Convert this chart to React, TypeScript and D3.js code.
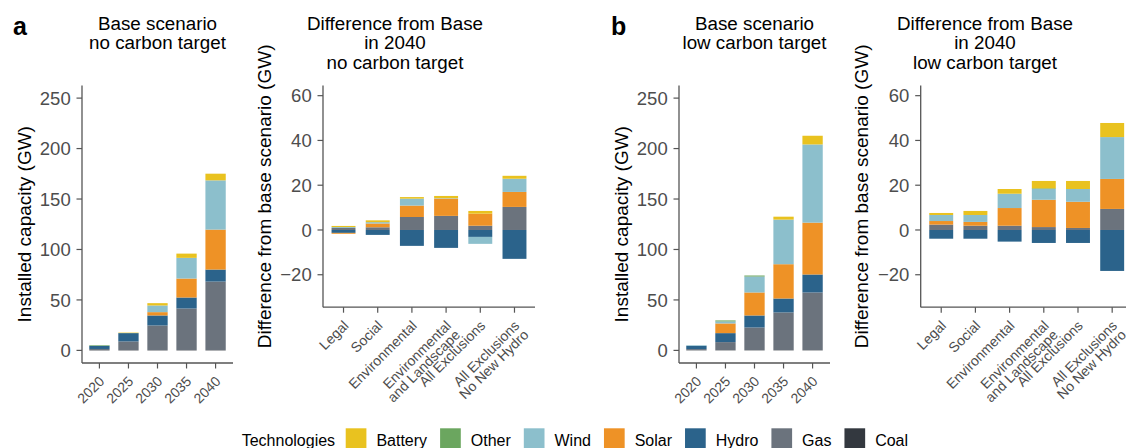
import React, { useEffect, useRef } from "react";
import * as d3 from "d3";

// ---------- data ----------
const technologies = ["Battery", "Other", "Wind", "Solar", "Hydro", "Gas", "Coal"];
const techColors = ["#E9C21F", "#6BA65F", "#8CBFCC", "#EE9226", "#2B638B", "#6B737D", "#33383F"];
const years = ["2020", "2025", "2030", "2035", "2040"];
const scenarios = [
  "Legal",
  "Social",
  "Environmental",
  "Environmental\nand Landscape",
  "All Exclusions",
  "All Exclusions\nNo New Hydro",
];
const baseTicks = [0, 50, 100, 150, 200, 250];
const diffTicks = [-20, 0, 20, 40, 60];

// a: base scenario, no carbon target (GW)
const noCarbonCoal = [0.4, 0.4, 0.4, 0.4, 0.4];
const noCarbonGas = [1.0, 8.5, 24.3, 41.1, 67.8];
const noCarbonHydro = [3.1, 8.2, 9.9, 10.9, 11.9];
const noCarbonSolar = [0, 0, 3.3, 18.8, 39.6];
const noCarbonWind = [0, 0, 6.6, 20.5, 48.8];
const noCarbonOther = [0.6, 0.1, 0, 0, 0];
const noCarbonBattery = [0, 0.4, 2.3, 4.2, 6.6];

// a: difference from base in 2040, no carbon target (GW)
const noCarbonDiffGas = [0.9, 1.2, 5.8, 6.3, 1.9, 10.3];
const noCarbonDiffHydro = [-1.3, -2.2, -7.1, -8.0, -3.1, -12.9];
const noCarbonDiffSolar = [-0.4, 1.7, 5.1, 7.7, 5.4, 6.7];
const noCarbonDiffWind = [0.4, 0.6, 3.1, 0.2, -3.1, 5.9];
const noCarbonDiffBattery = [0.5, 0.8, 0.7, 1.0, 1.2, 1.3];

// b: base scenario, low carbon target (GW)
const lowCarbonCoal = [0.3, 0.3, 0.3, 0.3, 0.3];
const lowCarbonGas = [1.0, 7.9, 22.4, 37.3, 57.1];
const lowCarbonHydro = [3.2, 8.9, 11.9, 13.8, 17.8];
const lowCarbonSolar = [0, 9.6, 22.8, 34.0, 51.4];
const lowCarbonWind = [0.6, 2.0, 15.8, 44.2, 77.5];
const lowCarbonOther = [0, 1.0, 1.0, 0, 0];
const lowCarbonBattery = [0, 0, 0, 2.9, 8.6];

// b: difference from base in 2040, low carbon target (GW)
const lowCarbonDiffGas = [2.4, 1.9, 1.9, 1.3, 0.9, 9.4];
const lowCarbonDiffHydro = [-3.9, -3.9, -5.2, -5.8, -5.8, -18.3];
const lowCarbonDiffSolar = [1.6, 1.7, 7.9, 12.2, 11.7, 13.4];
const lowCarbonDiffWind = [2.7, 3.1, 6.4, 4.8, 5.7, 18.7];
const lowCarbonDiffOther = [0, 0, 0, 0.3, 0, 0];
const lowCarbonDiffBattery = [0.9, 1.8, 2.1, 3.3, 3.6, 6.3];

const zeros6 = [0, 0, 0, 0, 0, 0];

type Series = Record<string, number[]>;

function buildRows(cats: string[], s: Series) {
  return cats.map((c, i) => {
    const row: any = { cat: c };
    technologies.forEach((t) => {
      row[t] = s[t] ? s[t][i] : 0;
    });
    return row;
  });
}

const FONT = "'Liberation Sans', Arial, Helvetica, sans-serif";
const AXIS_COLOR = "#555555";
const TICK_TEXT = "#4d4d4d";

export default function App() {
  const ref = useRef<SVGSVGElement>(null);

  useEffect(() => {
    const svg = d3.select(ref.current);
    svg.selectAll("*").remove();

    const colorOf = d3.scaleOrdinal<string, string>().domain(technologies).range(techColors);

    const panels = [
      {
        cats: years,
        rows: buildRows(years, {
          Coal: noCarbonCoal, Gas: noCarbonGas, Hydro: noCarbonHydro, Solar: noCarbonSolar,
          Wind: noCarbonWind, Other: noCarbonOther, Battery: noCarbonBattery,
        }),
        xr: [82, 233], yr: [363, 85.5], domain: [-12.5, 262.5], ticks: baseTicks,
        title: ["Base scenario", "no carbon target"], titleX: 157.5,
        yLabel: "Installed capacity (GW)", yLabelX: 24.5,
      },
      {
        cats: scenarios,
        rows: buildRows(scenarios, {
          Gas: noCarbonDiffGas, Hydro: noCarbonDiffHydro, Solar: noCarbonDiffSolar,
          Wind: noCarbonDiffWind, Other: zeros6, Battery: noCarbonDiffBattery, Coal: zeros6,
        }),
        xr: [323, 535], yr: [307.2, 85.6], domain: [-34.5, 64.5], ticks: diffTicks,
        title: ["Difference from Base", "in 2040", "no carbon target"], titleX: 395,
        yLabel: "Difference from base scenario (GW)", yLabelX: 264.5,
      },
      {
        cats: years,
        rows: buildRows(years, {
          Coal: lowCarbonCoal, Gas: lowCarbonGas, Hydro: lowCarbonHydro, Solar: lowCarbonSolar,
          Wind: lowCarbonWind, Other: lowCarbonOther, Battery: lowCarbonBattery,
        }),
        xr: [679, 830], yr: [363, 85.5], domain: [-12.5, 262.5], ticks: baseTicks,
        title: ["Base scenario", "low carbon target"], titleX: 754.5,
        yLabel: "Installed capacity (GW)", yLabelX: 621.5,
      },
      {
        cats: scenarios,
        rows: buildRows(scenarios, {
          Gas: lowCarbonDiffGas, Hydro: lowCarbonDiffHydro, Solar: lowCarbonDiffSolar,
          Wind: lowCarbonDiffWind, Other: lowCarbonDiffOther, Battery: lowCarbonDiffBattery, Coal: zeros6,
        }),
        xr: [920.7, 1132.7], yr: [307.2, 85.6], domain: [-34.5, 64.5], ticks: diffTicks,
        title: ["Difference from Base", "in 2040", "low carbon target"], titleX: 985,
        yLabel: "Difference from base scenario (GW)", yLabelX: 861.5,
      },
    ];

    const stackKeys = technologies.slice().reverse();

    panels.forEach((p) => {
      const g = svg.append("g");
      const x = d3.scaleBand<string>().domain(p.cats).range(p.xr as [number, number]).paddingInner(0).paddingOuter(0.1);
      const y = d3.scaleLinear().domain(p.domain).range(p.yr);
      const bw = x.bandwidth() * 0.7;

      const stacked = d3.stack<any>().keys(stackKeys).offset(d3.stackOffsetDiverging)(p.rows);
      stacked.forEach((layer) => {
        g.append("g")
          .attr("fill", colorOf(layer.key))
          .selectAll("rect")
          .data(layer.filter((d) => Math.abs(d[1] - d[0]) > 1e-9))
          .join("rect")
          .attr("x", (d) => (x(d.data.cat) as number) + x.bandwidth() / 2 - bw / 2)
          .attr("width", bw)
          .attr("y", (d) => Math.min(y(d[0]), y(d[1])))
          .attr("height", (d) => Math.abs(y(d[0]) - y(d[1])));
      });

      const axisX = p.xr[0];
      const axisY = p.yr[0];
      // axis lines
      g.append("line").attr("x1", axisX).attr("x2", axisX).attr("y1", p.yr[1]).attr("y2", axisY)
        .attr("stroke", AXIS_COLOR).attr("stroke-width", 1.3);
      g.append("line").attr("x1", axisX).attr("x2", p.xr[1]).attr("y1", axisY).attr("y2", axisY)
        .attr("stroke", AXIS_COLOR).attr("stroke-width", 1.3);

      // y ticks
      p.ticks.forEach((t) => {
        g.append("line").attr("x1", axisX - 5.5).attr("x2", axisX).attr("y1", y(t)).attr("y2", y(t))
          .attr("stroke", AXIS_COLOR).attr("stroke-width", 1.2);
        g.append("text").attr("x", axisX - 11.3).attr("y", y(t)).attr("dy", "0.36em")
          .attr("text-anchor", "end").attr("font-family", FONT).attr("font-size", 18.5)
          .attr("fill", TICK_TEXT).text(t < 0 ? "\u2212" + Math.abs(t) : String(t));
      });

      // x ticks
      p.cats.forEach((c) => {
        const cx = (x(c) as number) + x.bandwidth() / 2;
        g.append("line").attr("x1", cx).attr("x2", cx).attr("y1", axisY).attr("y2", axisY + 5.5)
          .attr("stroke", AXIS_COLOR).attr("stroke-width", 1.2);
        const lab = g.append("text")
          .attr("transform", `translate(${cx - 1.5},${axisY + 12}) rotate(-45)`)
          .attr("text-anchor", "end").attr("font-family", FONT).attr("font-size", 14)
          .attr("fill", TICK_TEXT);
        c.split("\n").forEach((line, i) => {
          lab.append("tspan").attr("x", 0).attr("dy", i === 0 ? "0.74em" : "0.92em").text(line);
        });
      });

      // y label
      g.append("text")
        .attr("transform", `translate(${p.yLabelX},${(p.yr[0] + p.yr[1]) / 2}) rotate(-90)`)
        .attr("dy", "0.35em").attr("text-anchor", "middle").attr("font-family", FONT)
        .attr("font-size", 19).attr("fill", "#000").text(p.yLabel);

      // title
      p.title.forEach((line, i) => {
        g.append("text").attr("x", p.titleX).attr("y", 30 + i * 19.3).attr("text-anchor", "middle")
          .attr("font-family", FONT).attr("font-size", 18.8).attr("fill", "#000").text(line);
      });
    });

    // panel tags
    [["a", 13], ["b", 611]].forEach(([t, xx]) => {
      svg.append("text").attr("x", xx as number).attr("y", 35).attr("font-family", FONT)
        .attr("font-weight", "bold").attr("font-size", 25).attr("fill", "#000").text(t as string);
    });

    // legend
    const lg = svg.append("g");
    const legY = 428.3;
    const sw = 20.7;
    let cx = 241.7;
    const head = lg.append("text").attr("x", cx).attr("y", 446).attr("font-family", FONT)
      .attr("font-size", 16).attr("fill", "#000").text("Technologies");
    cx += (head.node() as SVGTextElement).getComputedTextLength() + 10.6;
    technologies.forEach((t) => {
      lg.append("rect").attr("x", cx).attr("y", legY).attr("width", sw).attr("height", sw)
        .attr("fill", colorOf(t));
      const tx = lg.append("text").attr("x", cx + 30.7).attr("y", 446).attr("font-family", FONT)
        .attr("font-size", 16).attr("fill", "#000").text(t);
      cx += 30.7 + (tx.node() as SVGTextElement).getComputedTextLength() + 13;
    });
  }, []);

  return (
    <svg
      ref={ref}
      width={1126}
      height={448}
      style={{ position: "absolute", left: 0, top: 0, background: "#fff" }}
    />
  );
}
